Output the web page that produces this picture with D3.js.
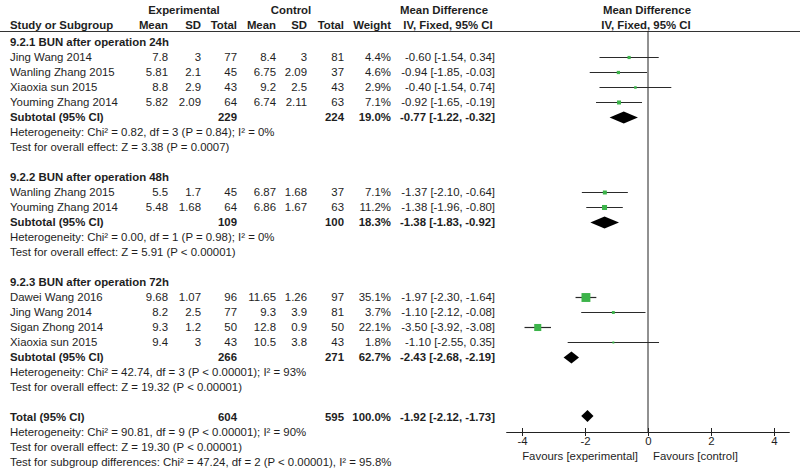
<!DOCTYPE html>
<html><head><meta charset="utf-8">
<script src="https://cdn.jsdelivr.net/npm/d3@7"></script>
<style>
body{margin:0;background:#fff;}
svg text{font-family:"Liberation Sans",Arial,sans-serif;font-size:11.4px;fill:#1e1e1e;}
</style></head>
<body><svg id="c" width="800" height="469"></svg>
<script>
// ---- data ----
const groups = ["9.2.1 BUN after operation 24h","9.2.2 BUN after operation 48h","9.2.3 BUN after operation 72h"];
const studyNames = ["Jing Wang 2014","Wanling Zhang 2015","Xiaoxia sun 2015","Youming Zhang 2014",
  "Wanling Zhang 2015","Youming Zhang 2014",
  "Dawei Wang 2016","Jing Wang 2014","Sigan Zhong 2014","Xiaoxia sun 2015"];
const studyGroup = [0,0,0,0,1,1,2,2,2,2];
const expMean = [7.8,5.81,8.8,5.82,5.5,5.48,9.68,8.2,9.3,9.4];
const expSD   = [3,2.1,2.9,2.09,1.7,1.68,1.07,2.5,1.2,3];
const expN    = [77,45,43,64,45,64,96,77,50,43];
const ctlMean = [8.4,6.75,9.2,6.74,6.87,6.86,11.65,9.3,12.8,10.5];
const ctlSD   = [3,2.09,2.5,2.11,1.68,1.67,1.26,3.9,0.9,3.8];
const ctlN    = [81,37,43,63,37,63,97,81,50,43];
const weight  = [4.4,4.6,2.9,7.1,7.1,11.2,35.1,3.7,22.1,1.8];
const md      = [-0.60,-0.94,-0.40,-0.92,-1.37,-1.38,-1.97,-1.10,-3.50,-1.10];
const ciLo    = [-1.54,-1.85,-1.54,-1.65,-2.10,-1.96,-2.30,-2.12,-3.92,-2.55];
const ciHi    = [0.34,-0.03,0.74,-0.19,-0.64,-0.80,-1.64,-0.08,-3.08,0.35];
const subExpN = [229,109,266];
const subCtlN = [224,100,271];
const subWeight = [19.0,18.3,62.7];
const subMD   = [-0.77,-1.38,-2.43];
const subLo   = [-1.22,-1.83,-2.68];
const subHi   = [-0.32,-0.92,-2.19];
const subHet  = ["Heterogeneity: Chi² = 0.82, df = 3 (P = 0.84); I² = 0%",
                 "Heterogeneity: Chi² = 0.00, df = 1 (P = 0.98); I² = 0%",
                 "Heterogeneity: Chi² = 42.74, df = 3 (P < 0.00001); I² = 93%"];
const subTest = ["Test for overall effect: Z = 3.38 (P = 0.0007)",
                 "Test for overall effect: Z = 5.91 (P < 0.00001)",
                 "Test for overall effect: Z = 19.32 (P < 0.00001)"];
const total = {expN:604, ctlN:595, weight:100.0, md:-1.92, lo:-2.12, hi:-1.73};
const totalNotes = ["Heterogeneity: Chi² = 90.81, df = 9 (P < 0.00001); I² = 90%",
  "Test for overall effect: Z = 19.30 (P < 0.00001)",
  "Test for subgroup differences: Chi² = 47.24, df = 2 (P < 0.00001), I² = 95.8%"];
const tickValues = [-4,-2,0,2,4];
const axisLabels = ["Favours [experimental]","Favours [control]"];

// ---- layout ----
const svg = d3.select("#c");
const x = d3.scaleLinear().domain([-4,4]).range([522,774]);
const rowY = d3.scaleLinear().domain([0,1]).range([42,57]); // 15px per row
const col = {mean1:168,sd1:201,n1:237,mean2:276,sd2:307,n2:344,w:391,ci:495};
const green = "#3cb44a";
const f2 = v => v.toFixed(2);
const ciText = (m,l,h) => `${f2(m)} [${f2(l)}, ${f2(h)}]`;

function txt(xp, row, s, anchor, bold){
  svg.append("text").attr("x",xp).attr("y",rowY(row)+4)
    .attr("text-anchor",anchor||"start")
    .attr("font-weight",bold?"bold":"normal").text(s);
}

// header
svg.append("text").attr("x",184).attr("y",14).attr("text-anchor","middle").attr("font-weight","bold").text("Experimental");
svg.append("text").attr("x",291).attr("y",14).attr("text-anchor","middle").attr("font-weight","bold").text("Control");
svg.append("text").attr("x",444).attr("y",14).attr("text-anchor","middle").attr("font-weight","bold").text("Mean Difference");
svg.append("text").attr("x",647).attr("y",14).attr("text-anchor","middle").attr("font-weight","bold").text("Mean Difference");
const h2 = [["Study or Subgroup",10,"start"],["Mean",col.mean1,"end"],["SD",col.sd1,"end"],["Total",col.n1,"end"],
  ["Mean",col.mean2,"end"],["SD",col.sd2,"end"],["Total",col.n2,"end"],["Weight",col.w,"end"],
  ["IV, Fixed, 95% CI",448,"middle"],["IV, Fixed, 95% CI",646,"middle"]];
h2.forEach(h=>svg.append("text").attr("x",h[1]).attr("y",29).attr("text-anchor",h[2]).attr("font-weight","bold").text(h[0]));
svg.append("line").attr("x1",0).attr("x2",800).attr("y1",31.5).attr("y2",31.5).attr("stroke","#333").attr("stroke-width",1);

// zero line
svg.append("line").attr("x1",x(0)).attr("x2",x(0)).attr("y1",31).attr("y2",432).attr("stroke","#222").attr("stroke-width",1);

// rows
let row = 0;
groups.forEach((g,gi)=>{
  txt(10,row,g,"start",true); row++;
  studyNames.forEach((n,i)=>{
    if(studyGroup[i]!==gi) return;
    txt(10,row,n);
    txt(col.mean1,row,String(expMean[i]),"end");
    txt(col.sd1,row,String(expSD[i]),"end");
    txt(col.n1,row,String(expN[i]),"end");
    txt(col.mean2,row,String(ctlMean[i]),"end");
    txt(col.sd2,row,String(ctlSD[i]),"end");
    txt(col.n2,row,String(ctlN[i]),"end");
    txt(col.w,row,weight[i].toFixed(1)+"%","end");
    txt(col.ci,row,ciText(md[i],ciLo[i],ciHi[i]),"end");
    const yy = rowY(row);
    svg.append("line").attr("x1",x(ciLo[i])).attr("x2",x(ciHi[i])).attr("y1",yy+0.5).attr("y2",yy+0.5)
      .attr("stroke","#2a2a2a").attr("stroke-width",1.2);
    const s = 1.5*Math.sqrt(weight[i]);
    svg.append("rect").attr("x",x(md[i])-s/2).attr("y",yy+0.5-s/2).attr("width",s).attr("height",s).attr("fill",green);
    row++;
  });
  txt(10,row,"Subtotal (95% CI)","start",true);
  txt(col.n1,row,String(subExpN[gi]),"end",true);
  txt(col.n2,row,String(subCtlN[gi]),"end",true);
  txt(col.w,row,subWeight[gi].toFixed(1)+"%","end",true);
  txt(col.ci,row,ciText(subMD[gi],subLo[gi],subHi[gi]),"end",true);
  diamond(subMD[gi],subLo[gi],subHi[gi],rowY(row)+0.5);
  row++;
  txt(10,row,subHet[gi]); row++;
  txt(10,row,subTest[gi]); row++;
  row++;
});
txt(10,row,"Total (95% CI)","start",true);
txt(col.n1,row,String(total.expN),"end",true);
txt(col.n2,row,String(total.ctlN),"end",true);
txt(col.w,row,total.weight.toFixed(1)+"%","end",true);
txt(col.ci,row,ciText(total.md,total.lo,total.hi),"end",true);
diamond(total.md,total.lo,total.hi,rowY(row)-1);
row++;
totalNotes.forEach(t=>{txt(10,row,t); row++;});

function diamond(m,l,h,yy){
  const hh=6;
  const pts=[[x(l),yy],[x(m),yy-hh],[x(h),yy],[x(m),yy+hh]];
  svg.append("path").attr("d","M"+pts.map(p=>p.join(",")).join("L")+"Z").attr("fill","#000");
}

// axis
const ay = 432;
const axis = d3.axisBottom(x).tickValues(tickValues).tickSize(4).tickPadding(4).tickFormat(d=>String(d));
const ag = svg.append("g").attr("transform",`translate(0,${ay})`).call(axis);
ag.select(".domain").remove();
ag.selectAll(".tick line").attr("y1",-4).attr("y2",4).attr("stroke","#222");
ag.selectAll(".tick text").attr("font-size",11.4).attr("fill","#1e1e1e").attr("font-family","Liberation Sans, Arial, sans-serif").attr("dy","0.45em");
svg.append("line").attr("x1",x(-4.5)).attr("x2",x(4.5)).attr("y1",ay+0.5).attr("y2",ay+0.5).attr("stroke","#222");
svg.append("text").attr("x",x(0)-10).attr("y",460).attr("text-anchor","end").text(axisLabels[0]);
svg.append("text").attr("x",x(0)+5).attr("y",460).attr("text-anchor","start").text(axisLabels[1]);
</script></body></html>
